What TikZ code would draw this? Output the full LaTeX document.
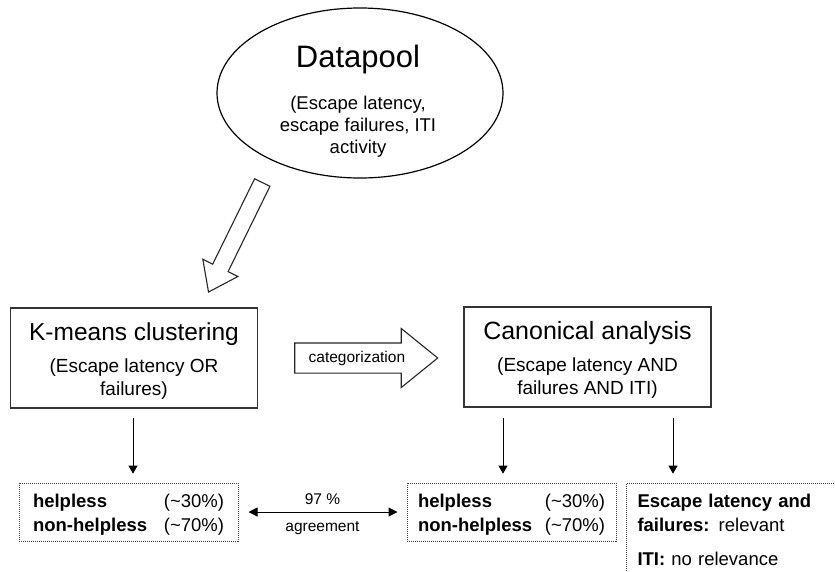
\documentclass[tikz,border=0pt]{standalone}
\usepackage{fontspec}
\setmainfont{Liberation Sans}
\usetikzlibrary{positioning, arrows.meta, shapes.geometric, shapes.arrows}

\newcommand{\shareline}[3]{\makebox[#1]{\textbf{#2}\hfill(\textasciitilde#3\%)}}

\begin{document}
\begin{tikzpicture}[
  x=1pt, y=-1pt,
  box/.style={draw=black!80, line width=1.3pt, minimum width=247pt, minimum height=100pt, inner sep=0pt, align=center, font=\fontsize{19}{22.5}\selectfont},
  result/.style={draw=black!75, line width=1pt, dash pattern=on 1pt off 1pt, minimum height=58pt, inner sep=0pt, align=center, font=\fontsize{18.5}{24}\selectfont},
  hollow/.style={single arrow, draw=black!85, line width=1.1pt, fill=white},
  down/.style={-{Triangle[length=8pt, width=9pt]}, line width=1pt},
  label/.style={font=\fontsize{15.5}{18}\selectfont, inner sep=0pt},
]
  \useasboundingbox (0,0) rectangle (835,571);
  \clip (0,0) rectangle (835,571);

  % Datapool
  \node[draw, ellipse, line width=1.2pt, minimum width=286pt, minimum height=170pt] (pool) at (360,93) {};
  \node[font=\fontsize{31}{35}\selectfont, anchor=base] (pooltitle) at (358,67) {Datapool};
  \node[font=\fontsize{18.5}{22}\selectfont, align=center, anchor=north, inner sep=0pt] (poolitems) at (358,96) {(Escape latency,\\escape failures, ITI\\activity};

  % K-means and canonical analysis
  \node[box] (kmeans) at (134,358) {\rule{0pt}{23pt}{\fontsize{24.5}{29}\selectfont K-means clustering}\\[10pt](Escape latency OR\\failures)};
  \node[box] (canon) at (587.5,357) {\rule{0pt}{23pt}{\fontsize{25}{29}\selectfont Canonical analysis}\\[10pt](Escape latency AND\\failures AND ITI)};

  % Hollow arrows
  \node[hollow, rotate=243.85, minimum height=122pt, inner xsep=0pt, inner ysep=8pt, text height=0pt, text depth=0pt,
        single arrow head extend=11pt, single arrow tip angle=72] (feed) at (238,232) {};
  \node[hollow, right=36pt of kmeans, minimum height=143pt, inner xsep=4pt, inner ysep=7.5pt, text height=11pt, text depth=3pt,
        single arrow head extend=14.5pt, single arrow tip angle=78, font=\fontsize{15.5}{18}\selectfont] (categ) {categorization};

  % Groupings
  \node[result, minimum width=219pt] (kmeansres) at (128.5,512) {\rule{0pt}{19pt}\shareline{191pt}{helpless}{30}\\\shareline{191pt}{non-helpless}{70}};
  \node[result, minimum width=209pt] (canonres) at (511.5,512) {\rule{0pt}{19pt}\shareline{187pt}{helpless}{30}\\\shareline{187pt}{non-helpless}{70}};
  \node[result, anchor=north west, align=left, text width=200pt, inner xsep=11pt, inner ysep=11pt] (relevance) at (626,483)
    {\textbf{Escape latency and}\\\textbf{failures:} relevant\\[10pt]\textbf{ITI:} no relevance};

  % Down arrows
  \draw[down] ([xshift=-1pt, yshift=-9pt]kmeans.south) -- ([xshift=-1pt, yshift=-65pt]kmeans.south);
  \draw[down] ([xshift=-84.5pt, yshift=-10pt]canon.south) -- ([xshift=-84.5pt, yshift=-66pt]canon.south);
  \draw[down] ([xshift=85.5pt, yshift=-10pt]canon.south) -- ([xshift=85.5pt, yshift=-66pt]canon.south);

  % Agreement
  \draw[{Triangle[length=9pt, width=9pt]}-{Triangle[length=9pt, width=9pt]}, line width=1pt, shorten <=10pt, shorten >=9pt]
    (kmeansres) -- node[label, above=7pt] {97 \%} node[label, below=9pt] {agreement} (canonres);
\end{tikzpicture}
\end{document}
